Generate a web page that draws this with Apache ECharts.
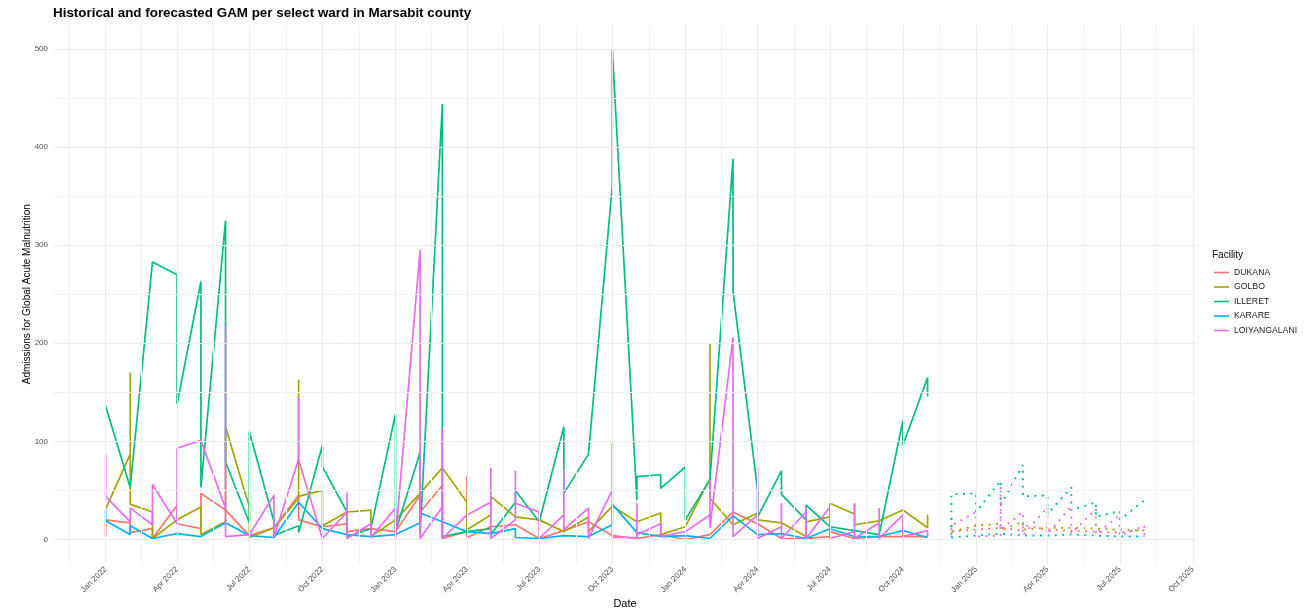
<!DOCTYPE html>
<html>
<head>
<meta charset="utf-8">
<script src="https://cdn.jsdelivr.net/npm/echarts@6/dist/echarts.min.js"></script>
<style>
  html, body { margin: 0; padding: 0; background: #ffffff; }
  #chart { width: 1309px; height: 609px; }
</style>
</head>
<body>
<div id="chart"></div>
<script>
// Facilities and their colours (ggplot default hue palette for five groups)
const facilities = ['DUKANA', 'GOLBO', 'ILLERET', 'KARARE', 'LOIYANGALANI'];
const facilityColors = ['#F8766D', '#A3A500', '#00BF7D', '#00B0F6', '#E76BF3'];

// Reporting months (historical) and forecast months
const histMonths = [
  '2022-01-01','2022-02-01','2022-03-01','2022-04-01','2022-05-01','2022-06-01',
  '2022-07-01','2022-08-01','2022-09-01','2022-10-01','2022-11-01','2022-12-01',
  '2023-01-01','2023-02-01','2023-03-01','2023-04-01','2023-05-01','2023-06-01',
  '2023-07-01','2023-08-01','2023-09-01','2023-10-01','2023-11-01','2023-12-01',
  '2024-01-01','2024-02-01','2024-03-01','2024-04-01','2024-05-01','2024-06-01',
  '2024-07-01','2024-08-01','2024-09-01','2024-10-01','2024-11-01'
];
const forecastMonths = [
  '2024-12-01','2025-01-01','2025-02-01','2025-03-01','2025-04-01',
  '2025-05-01','2025-06-01','2025-07-01','2025-08-01'
];

// Monthly admissions; several records per month are listed in reporting order
const histDukana = [
  [3, 20], [17, 7], [11, 1], [35, 16], [11, 47], [30], [4], [12], [45, 20], [13], [16, 8], [11],
  [8], [45, 28], [55, 1], [8, 65, 2], [13], [15], [1], [9], [18], [4], [1], [5],
  [0], [5], [28], [16], [1], [1], [3, 8], [1], [3], [3], [3]
];
const histGolbo = [
  [31], [87, 170, 36], [28, 1], [20], [33, 5], [18, 115], [33, 2], [12], [42, 163, 44], [50, 14], [28], [30, 3],
  [20], [47], [73], [38, 10], [25, 44], [23], [20], [8], [23, 8], [34], [18], [27, 5],
  [13], [62, 199, 42], [15], [27, 20], [17], [3, 18], [23, 37], [26, 36, 15], [19], [30], [12, 25]
];
const histIlleret = [
  [136], [53], [283], [270, 138], [263, 53], [325, 79], [17, 110], [18, 4], [14, 7], [96, 74], [28, 3], [11],
  [128, 8], [89, 6], [444, 3], [8], [11, 5], [38, 50], [18], [115, 47], [87], [361, 500], [40, 64], [66, 52],
  [74, 20], [61], [388, 253], [50, 23], [70, 46], [20, 35], [13], [9], [5], [121, 96], [165, 146]
];
const histKarare = [
  [30, 19], [5, 14], [1], [6], [3], [17], [4], [2], [38], [11], [5], [3],
  [5], [17, 27], [18], [8], [6], [11, 2], [1], [4], [3], [15, 36], [7], [3],
  [4], [1], [24], [5], [6], [1], [11], [3], [3], [9], [2]
];
const histLoiyangalani = [
  [87, 44], [18, 32], [15, 56], [16, 93], [101], [32, 219, 3], [5], [45, 2], [82, 144, 81], [1], [28, 48, 1], [16, 2],
  [32, 1], [295, 1], [33, 113, 1], [25], [38, 73, 1], [20, 70, 37], [28, 1], [25, 72, 10], [32, 1], [50, 98, 2], [2, 37, 5], [16, 3],
  [8], [25, 61, 12], [206, 3], [25, 74, 1], [13, 37, 1], [28, 33, 1], [33, 1], [8, 37, 1], [17, 32, 1], [25, 3], [9, 3]
];

const fcDukana = [[8], [10], [12], [9, 15], [10], [9], [8], [7], [10]];
const fcGolbo = [[22, 8], [14], [16, 9], [18, 10], [12], [12], [11], [10], [9]];
const fcIlleret = [[5, 46], [47, 28], [60, 35], [76, 44], [45, 26], [53, 30], [38, 23], [29, 20], [40]];
const fcKarare = [[2], [4], [6], [4], [4], [5], [4], [3], [3]];
const fcLoiyangalani = [[2, 14], [28, 3], [4, 55, 10], [28, 4], [33, 5], [34, 6], [31, 5], [25, 4], [14, 4]];

// Axis ticks and ranges
const quarterTicks = [
  '2022-01-01','2022-04-01','2022-07-01','2022-10-01','2023-01-01','2023-04-01','2023-07-01','2023-10-01',
  '2024-01-01','2024-04-01','2024-07-01','2024-10-01','2025-01-01','2025-04-01','2025-07-01','2025-10-01'
];
const xRange = ['2021-10-28', '2025-10-05'];
const yTicks = [0, 100, 200, 300, 400, 500];
const yMinorTicks = [50, 150, 250, 350, 450];
const yRange = [-25, 525];

const MONTH_ABBR = ['Jan','Feb','Mar','Apr','May','Jun','Jul','Aug','Sep','Oct','Nov','Dec'];
function ts(s) {
  const p = s.split('-').map(Number);
  return new Date(p[0], p[1] - 1, p[2]).getTime();
}
function expand(months, groups) {
  const out = [];
  groups.forEach((vals, i) => vals.forEach(v => out.push([ts(months[i]), v])));
  return out;
}

const hist = [histDukana, histGolbo, histIlleret, histKarare, histLoiyangalani];
const fc = [fcDukana, fcGolbo, fcIlleret, fcKarare, fcLoiyangalani];

// Minor vertical grid lines sit halfway between quarter breaks
const xMin = ts(xRange[0]), xMax = ts(xRange[1]);
const quarterTs = quarterTicks.map(ts);
const allBreaks = [ts('2021-10-01')].concat(quarterTs, [ts('2026-01-01')]);
const minorXs = [];
for (let i = 0; i < allBreaks.length - 1; i++) {
  const m = (allBreaks[i] + allBreaks[i + 1]) / 2;
  if (m > xMin && m < xMax) minorXs.push(m);
}

const gridLines = [];
minorXs.forEach(x => gridLines.push({ xAxis: x, lineStyle: { color: '#f3f3f3', width: 1 } }));
yMinorTicks.forEach(y => gridLines.push({ yAxis: y, lineStyle: { color: '#f3f3f3', width: 1 } }));
quarterTs.forEach(x => gridLines.push({ xAxis: x, lineStyle: { color: '#ebebeb', width: 1 } }));
yTicks.forEach(y => gridLines.push({ yAxis: y, lineStyle: { color: '#ebebeb', width: 1 } }));

const series = [{
  name: 'grid',
  type: 'line',
  data: [],
  silent: true,
  z: 0,
  markLine: {
    silent: true,
    symbol: ['none', 'none'],
    label: { show: false },
    lineStyle: { type: 'solid' },
    animation: false,
    data: gridLines
  }
}];

facilities.forEach((name, i) => {
  series.push({
    name: name,
    type: 'line',
    data: expand(histMonths, hist[i]),
    symbol: 'none',
    z: 2,
    lineStyle: { color: facilityColors[i], width: 1.7 },
    itemStyle: { color: facilityColors[i] },
    animation: false
  });
});
facilities.forEach((name, i) => {
  series.push({
    name: name,
    type: 'line',
    data: expand(forecastMonths, fc[i]),
    symbol: 'none',
    z: 2,
    lineStyle: { color: facilityColors[i], width: 1.9, type: [1.9, 5.5] },
    itemStyle: { color: facilityColors[i] },
    animation: false
  });
});

const chart = echarts.init(document.getElementById('chart'), null, { renderer: 'canvas' });
chart.setOption({
  backgroundColor: '#ffffff',
  animation: false,
  textStyle: { fontFamily: 'Liberation Sans, Arial, sans-serif' },
  title: [
    {
      text: 'Historical and forecasted GAM per select ward in Marsabit county',
      left: 53, top: 7, padding: 0,
      textStyle: { fontSize: 13.4, fontWeight: 'bold', color: '#000000', fontFamily: 'Liberation Sans, Arial, sans-serif' }
    },
    {
      text: 'Facility',
      left: 1212, top: 250, padding: 0,
      textStyle: { fontSize: 10, fontWeight: 'normal', color: '#000000', fontFamily: 'Liberation Sans, Arial, sans-serif' }
    }
  ],
  legend: {
    data: facilities,
    orient: 'vertical',
    left: 1214, top: 268, padding: 0,
    icon: 'rect',
    itemWidth: 15, itemHeight: 1.6,
    itemGap: 5.5,
    selectedMode: false,
    textStyle: { fontSize: 8.7, color: '#1a1a1a' }
  },
  grid: { left: 54, right: 113, top: 24.5, bottom: 45, containLabel: false, outerBoundsMode: 'none' },
  xAxis: {
    type: 'value',
    min: xMin, max: xMax,
    name: 'Date', nameLocation: 'middle', nameGap: 34, nameMoveOverlap: false,
    nameTextStyle: { fontSize: 11, color: '#000000', verticalAlign: 'top' },
    axisLine: { show: false }, axisTick: { show: false }, splitLine: { show: false },
    axisLabel: {
      customValues: quarterTs,
      rotate: 45, fontSize: 8, color: '#4d4d4d', margin: 4,
      formatter: v => { const d = new Date(v); return MONTH_ABBR[d.getMonth()] + ' ' + d.getFullYear(); }
    }
  },
  yAxis: {
    type: 'value',
    min: yRange[0], max: yRange[1],
    name: 'Admissions for Global Acute Malnutrition', nameLocation: 'middle', nameGap: 22, nameRotate: 90,
    nameMoveOverlap: false,
    nameTextStyle: { fontSize: 10, color: '#000000' },
    axisLine: { show: false }, axisTick: { show: false }, splitLine: { show: false },
    axisLabel: { customValues: yTicks, fontSize: 8, color: '#4d4d4d', margin: 6 }
  },
  series: series
});
</script>
</body>
</html>
